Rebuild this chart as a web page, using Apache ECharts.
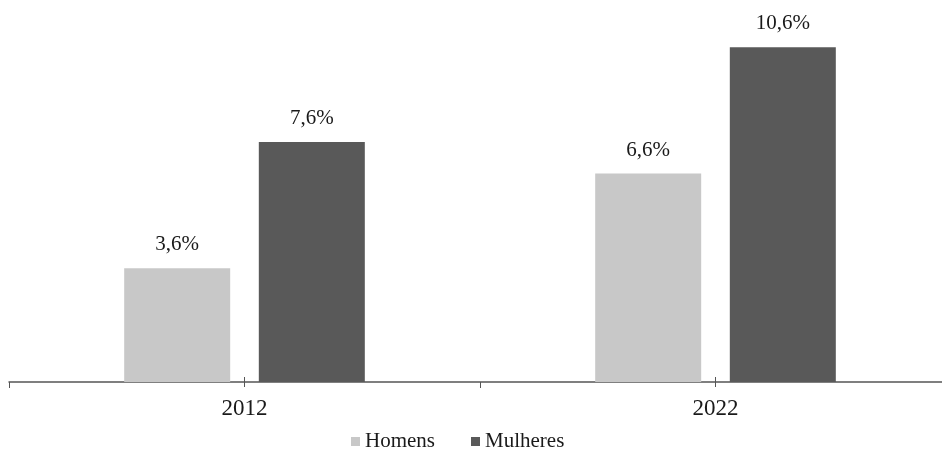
<!DOCTYPE html>
<html>
<head>
<meta charset="utf-8">
<script src="https://cdn.jsdelivr.net/npm/echarts@6/dist/echarts.min.js"></script>
<style>
  html, body { margin: 0; padding: 0; background: #fff; }
  #chart { width: 942px; height: 450px; }
</style>
</head>
<body>
<div id="chart"></div>
<script>
// Years on the category axis
const years = ['2012', '2022'];
// Share (%) for each group
const homens = [3.6, 6.6];
const mulheres = [7.6, 10.6];
const seriesNames = ['Homens', 'Mulheres'];

const FONT = 'Liberation Serif';
const TEXT_COLOR = '#1a1a1a';
const AXIS_COLOR = '#555';

const fmt = v => v.toFixed(1).replace('.', ',') + '%';

const labelStyle = {
  show: true,
  position: 'top',
  distance: 13,
  fontFamily: FONT,
  fontSize: 21,
  color: TEXT_COLOR,
  formatter: p => fmt(p.value)
};

const baseAxis = {
  type: 'category',
  data: years,
  position: 'bottom',
  boundaryGap: true,
  gridIndex: 0
};

const chart = echarts.init(document.getElementById('chart'), null, { renderer: 'canvas' });
chart.setOption({
  animation: false,
  backgroundColor: '#fff',
  textStyle: { fontFamily: FONT, color: TEXT_COLOR },
  grid: { left: 9, top: 3, width: 942, height: 379, containLabel: false, outerBoundsMode: 'none' },
  legend: {
    left: 351,
    top: 431,
    padding: 0,
    itemWidth: 9,
    itemHeight: 9,
    itemGap: 36,
    icon: 'rect',
    data: seriesNames,
    textStyle: { fontFamily: FONT, fontSize: 21, color: TEXT_COLOR }
  },
  xAxis: [
    Object.assign({}, baseAxis, {
      axisLine: { lineStyle: { color: AXIS_COLOR, width: 1.5 } },
      axisTick: { show: true, alignWithLabel: false, length: 6, lineStyle: { color: AXIS_COLOR } },
      axisLabel: { fontFamily: FONT, fontSize: 23, color: TEXT_COLOR, margin: 15 }
    }),
    // short marks centred on each year, crossing the axis line
    Object.assign({}, baseAxis, {
      axisLine: { show: false },
      axisTick: { show: true, alignWithLabel: true, inside: true, length: 5, lineStyle: { color: AXIS_COLOR } },
      axisLabel: { show: false }
    }),
    Object.assign({}, baseAxis, {
      axisLine: { show: false },
      axisTick: { show: true, alignWithLabel: true, inside: false, length: 5, lineStyle: { color: AXIS_COLOR } },
      axisLabel: { show: false }
    })
  ],
  yAxis: {
    type: 'value',
    min: 0,
    max: 12,
    show: false,
    splitLine: { show: false }
  },
  series: [
    {
      name: seriesNames[0],
      type: 'bar',
      data: homens,
      barWidth: 106,
      barGap: '27%',
      itemStyle: { color: '#c8c8c8' },
      label: labelStyle
    },
    {
      name: seriesNames[1],
      type: 'bar',
      data: mulheres,
      barWidth: 106,
      barGap: '27%',
      itemStyle: { color: '#595959' },
      label: labelStyle
    }
  ]
});
</script>
</body>
</html>
